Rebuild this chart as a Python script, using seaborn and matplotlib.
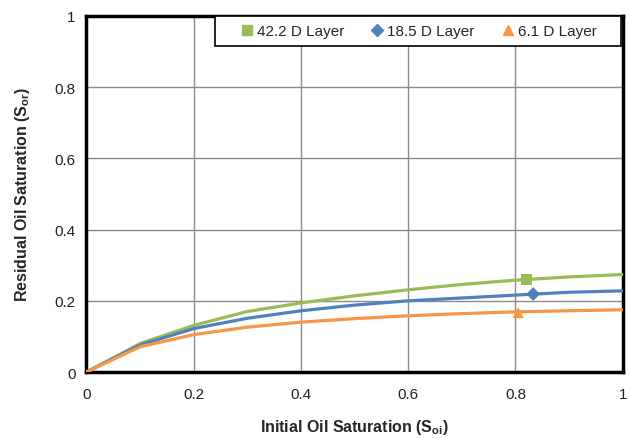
import matplotlib
matplotlib.use("Agg")
import matplotlib.pyplot as plt
import seaborn as sns
import pandas as pd
from matplotlib.lines import Line2D
from matplotlib.patches import Rectangle

# Data
soi = [0.0, 0.1, 0.2, 0.3, 0.4, 0.5, 0.6, 0.7, 0.8, 0.9, 1.0]
sor_42 = [0.0, 0.080, 0.131, 0.170, 0.194, 0.214, 0.231, 0.246, 0.258, 0.267, 0.274]
sor_18 = [0.0, 0.076, 0.122, 0.151, 0.172, 0.188, 0.200, 0.208, 0.216, 0.224, 0.228]
sor_6 = [0.0, 0.071, 0.105, 0.126, 0.140, 0.150, 0.158, 0.164, 0.169, 0.172, 0.175]

labels = ["42.2 D Layer", "18.5 D Layer", "6.1 D Layer"]
meas_x = [0.82, 0.833, 0.805]
meas_y = [0.261, 0.219, 0.167]

colors = ["#9BBB59", "#4F81BD", "#F79646"]
markers = ["s", "D", "^"]
msizes = [8, 7, 8]

curve = pd.DataFrame({
    "Soi": soi * 3,
    "Sor": sor_42 + sor_18 + sor_6,
    "Layer": sum([[l] * len(soi) for l in labels], []),
})
pts = pd.DataFrame({"Soi": meas_x, "Sor": meas_y, "Layer": labels})

sns.set_style("white")
plt.rcParams["font.family"] = ["Liberation Sans", "DejaVu Sans"]

fig = plt.figure(figsize=(6.29, 4.39), dpi=100)
ax = fig.add_axes([0.1375, 0.1503, 0.990 - 0.1375, 0.9613 - 0.1503])

palette = dict(zip(labels, colors))
sns.lineplot(data=curve, x="Soi", y="Sor", hue="Layer", palette=palette,
             linewidth=2.3, ax=ax, legend=False, zorder=3)
for lab, m, s in zip(labels, markers, msizes):
    sub = pts[pts["Layer"] == lab]
    sns.scatterplot(data=sub, x="Soi", y="Sor", color=palette[lab], marker=m,
                    s=s ** 2, edgecolor="none", ax=ax, legend=False, zorder=4)

ax.set_xlim(0, 1)
ax.set_ylim(0, 1)
ticks = [0, 0.2, 0.4, 0.6, 0.8, 1]
ticklabels = ["0", "0.2", "0.4", "0.6", "0.8", "1"]
ax.set_xticks(ticks)
ax.set_xticklabels(ticklabels)
ax.set_yticks(ticks)
ax.set_yticklabels(ticklabels)
ax.grid(True, color="#8c8c8c", linewidth=1.0)
ax.set_axisbelow(True)
ax.tick_params(axis="both", labelsize=11, colors="#222222", length=5,
               width=1, direction="out", pad=3)
ax.tick_params(axis="x", pad=6)
for sp in ax.spines.values():
    sp.set_visible(True)
    sp.set_color("black")
    sp.set_linewidth(2.5)

ax.set_xlabel(r"Initial Oil Saturation (S$_{\mathregular{oi}}$)", fontsize=11.5,
              fontweight="bold", labelpad=11)
ax.set_ylabel(r"Residual Oil Saturation (S$_{\mathregular{or}}$)", fontsize=11.5,
              fontweight="bold", labelpad=16)

# legend box
x0, x1 = 0.2394, 0.997
y0, y1 = 0.9157, 1.0
ax.add_patch(Rectangle((x0, y0), x1 - x0, y1 - y0, transform=ax.transAxes,
                       facecolor="white", edgecolor="black", linewidth=1.2,
                       zorder=5, clip_on=False))
handles = [Line2D([], [], linestyle="none", marker=m, color=c,
                  markersize=7 if m != "D" else 6)
           for m, c in zip(markers, colors)]
leg = ax.legend(handles, labels, ncol=3, loc="center",
                bbox_to_anchor=(x0, y0, x1 - x0, y1 - y0), mode="expand",
                fontsize=11, frameon=False, handletextpad=0.15,
                handlelength=1.0, borderpad=1.6, borderaxespad=0)
leg.set_zorder(6)

fig.savefig("out.png", dpi=100)
